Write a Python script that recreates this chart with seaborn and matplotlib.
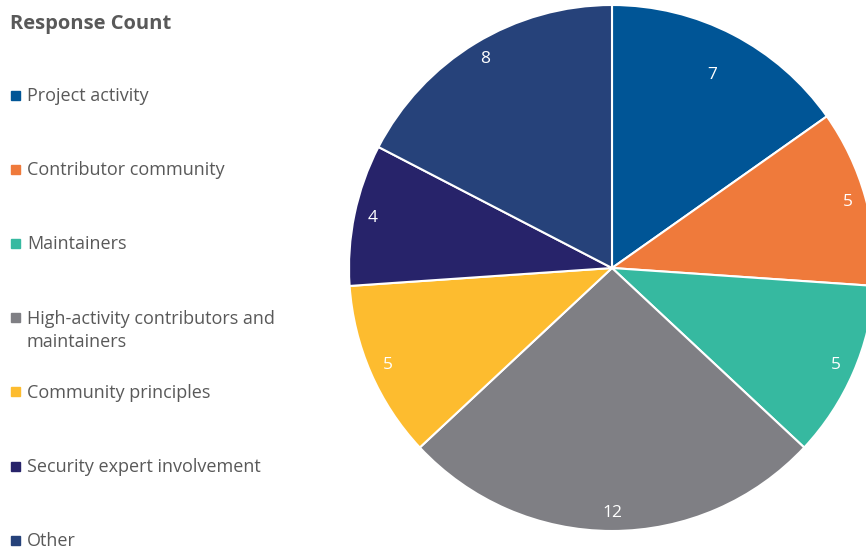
import matplotlib
matplotlib.use("Agg")
import matplotlib.pyplot as plt
from matplotlib.patches import Rectangle
import seaborn as sns

categories = [
    "Project activity",
    "Contributor community",
    "Maintainers",
    "High-activity contributors and\nmaintainers",
    "Community principles",
    "Security expert involvement",
    "Other",
]
counts = [7, 5, 5, 12, 5, 4, 8]
colors = ["#005596", "#EF7A3B", "#36B9A0", "#7F7F84", "#FDBC2F", "#27236A", "#26427A"]

sns.set_theme(style="white")
plt.rcParams["font.family"] = ["Open Sans", "DejaVu Sans"]
palette = sns.color_palette(colors)
text_gray = "#595959"

fig = plt.figure(figsize=(8.66, 5.51), dpi=100)

# pie placed so its centre sits at ~(612, 268) px with radius ~263 px
W, H = 866, 551
cx, cy, r = 612, 268, 263
ax = fig.add_axes([(cx - r) / W, (H - cy - r) / H, 2 * r / W, 2 * r / H])
wedges, texts, autotexts = ax.pie(
    counts,
    colors=palette,
    startangle=90,
    counterclock=False,
    radius=1,
    autopct=lambda p: f"{round(p * sum(counts) / 100):d}",
    pctdistance=0.93,
    wedgeprops=dict(edgecolor="white", linewidth=1.5),
    textprops=dict(color="white", fontsize=12.5),
)
# the first label sits a little further in on the original
x0, y0 = autotexts[0].get_position()
autotexts[0].set_position((x0 * 0.89, y0 * 0.89))
ax.set_xlim(-1, 1)
ax.set_ylim(-1, 1)
ax.set_aspect("equal")
ax.axis("off")

# legend drawn by hand so the two-line entry keeps the even spacing
fig.text(10 / W, 1 - 24 / H, "Response Count", fontsize=14.5, fontweight="bold",
         color=text_gray, va="center", ha="left")
for i, (lab, col) in enumerate(zip(categories, palette)):
    y = 95 + i * 74.2
    fig.patches.append(Rectangle((11 / W, 1 - (y + 4.5) / H), 9 / W, 9 / H,
                                 transform=fig.transFigure, color=col))
    fig.text(27 / W, 1 - (y - 8) / H, lab, fontsize=13, color=text_gray,
             va="top", ha="left", linespacing=1.4)

fig.savefig("out.png", dpi=100)
